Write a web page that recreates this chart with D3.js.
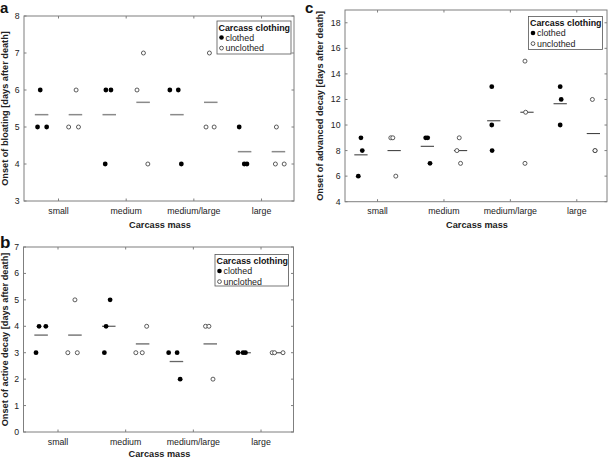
<!DOCTYPE html>
<html><head><meta charset="utf-8">
<script src="https://cdn.jsdelivr.net/npm/d3@7"></script>
<style>
html,body{margin:0;padding:0;background:#fff;}
svg{display:block;font-family:"Liberation Sans",Arial,sans-serif;}
</style></head>
<body>
<svg id="chart" width="610" height="458"></svg>
<script>
// ---- data ----
const categories = ["small", "medium", "medium/large", "large"];
const legendTitle = "Carcass clothing";
const seriesNames = ["clothed", "unclothed"];
// groups ordered: small-clothed, small-unclothed, medium-clothed, ...
const bloatingValues = [[5,6,5],[6,5,5],[6,6,4],[6,7,4],[6,6,4],[5,7,5],[5,4,4],[5,4,4]];
const bloatingJitter = [[-0.12,-0.04,0.15],[0.02,-0.20,0.09],[-0.10,0.05,-0.12],[-0.18,0.01,0.14],[-0.21,0.04,0.13],[-0.14,-0.04,0.10],[-0.16,-0.01,0.07],[-0.06,-0.09,0.17]];
const activeValues = [[3,4,4],[3,5,3],[3,4,5],[3,3,4],[3,3,2],[4,4,2],[3,3,3],[3,3,3]];
const activeJitter = [[-0.15,-0.06,0.14],[-0.21,0.00,0.07],[-0.13,-0.08,0.04],[-0.20,-0.01,0.12],[-0.23,0.02,0.11],[-0.14,-0.04,0.08],[-0.18,-0.03,0.04],[-0.17,-0.10,0.15]];
const advancedValues = [[6,9,8],[9,9,6],[9,9,7],[9,8,7],[13,10,8],[15,11,7],[13,12,10],[12,8,8]];
const advancedJitter = [[-0.08,0,0.04],[-0.10,-0.04,0.05],[-0.05,0.01,0.08],[-0.04,-0.11,0],[-0.06,-0.06,-0.05],[-0.06,-0.04,-0.06],[0,0.03,0],[-0.03,0.05,0.05]];
const bloatingTicks = [3,4,5,6,7,8];
const activeTicks = [0,1,2,3,4,5,6,7];
const advancedTicks = [4,6,8,10,12,14,16,18];

const svg = d3.select("#chart");

function panel(cfg) {
  const {letter, values, jitter, yDomain, yTicks, yLabel, box, xDomain, lg, meanColor, meanWidth, letterPos, yLabelX} = cfg;
  const g = svg.append("g");
  const x = d3.scaleLinear().domain(xDomain).range([box.x0, box.x1]);
  const y = d3.scaleLinear().domain(yDomain).range([box.y1, box.y0]);
  const frameColor = "#7f7f7f";

  // frame
  g.append("rect").attr("x", box.x0).attr("y", box.y0)
    .attr("width", box.x1 - box.x0).attr("height", box.y1 - box.y0)
    .attr("fill", "none").attr("stroke", frameColor).attr("stroke-width", 1);

  // y ticks & labels
  yTicks.forEach(t => {
    const yy = y(t);
    g.append("line").attr("x1", box.x0).attr("x2", box.x0 + 2.5).attr("y1", yy).attr("y2", yy).attr("stroke", frameColor);
    g.append("line").attr("x1", box.x1).attr("x2", box.x1 - 2.5).attr("y1", yy).attr("y2", yy).attr("stroke", frameColor);
    g.append("text").attr("x", box.x0 - 4.5).attr("y", yy + 3).attr("text-anchor", "end")
      .attr("font-size", 8.7).attr("fill", "#222").text(t);
  });
  // x ticks & labels
  categories.forEach((c, i) => {
    const xx = x(2 * i + 0.5);
    g.append("line").attr("x1", xx).attr("x2", xx).attr("y1", box.y1).attr("y2", box.y1 - 2.5).attr("stroke", frameColor);
    g.append("line").attr("x1", xx).attr("x2", xx).attr("y1", box.y0).attr("y2", box.y0 + 2.5).attr("stroke", frameColor);
    g.append("text").attr("x", xx).attr("y", box.y1 + 12.5).attr("text-anchor", "middle")
      .attr("font-size", 8.8).attr("fill", "#222").text(c);
  });
  // axis titles
  g.append("text").attr("x", (box.x0 + box.x1) / 2 + 1).attr("y", box.y1 + cfg.xTitleDy).attr("text-anchor", "middle")
    .attr("font-size", 9.2).attr("font-weight", "bold").attr("fill", "#222").text("Carcass mass");
  g.append("text").attr("transform", `translate(${yLabelX},${(box.y0 + box.y1) / 2}) rotate(-90)`)
    .attr("text-anchor", "middle").attr("font-size", 9.2).attr("font-weight", "bold").attr("fill", "#222").text(yLabel);
  // panel letter
  g.append("text").attr("x", letterPos[0]).attr("y", letterPos[1]).attr("font-size", letterPos[2])
    .attr("font-weight", "bold").attr("fill", "#111").text(letter);

  // mean lines
  values.forEach((vals, i) => {
    const m = d3.mean(vals);
    g.append("line").attr("x1", x(i - 0.2)).attr("x2", x(i + 0.2)).attr("y1", y(m)).attr("y2", y(m))
      .attr("stroke", meanColor).attr("stroke-width", meanWidth);
  });
  // points
  values.forEach((vals, i) => {
    const clothed = i % 2 === 0;
    vals.forEach((v, k) => {
      const c = g.append("circle").attr("cx", x(i + jitter[i][k])).attr("cy", y(v));
      if (clothed) c.attr("r", 2.4).attr("fill", "#000");
      else c.attr("r", 2).attr("fill", "#fff").attr("stroke", "#333").attr("stroke-width", 0.8);
    });
  });

  // legend
  g.append("rect").attr("x", lg.x0).attr("y", lg.y0).attr("width", lg.x1 - lg.x0).attr("height", lg.y1 - lg.y0)
    .attr("fill", "#fff").attr("stroke", "#555").attr("stroke-width", 0.8);
  g.append("text").attr("x", lg.x0 + 1.5).attr("y", lg.y0 + 9.7).attr("font-size", 8.9)
    .attr("font-weight", "bold").attr("fill", "#111").text(legendTitle);
  seriesNames.forEach((s, k) => {
    const cy = lg.y0 + 16.5 + k * 10.6;
    const c = g.append("circle").attr("cx", lg.x0 + 4.5).attr("cy", cy);
    if (k === 0) c.attr("r", 2.3).attr("fill", "#000");
    else c.attr("r", 1.9).attr("fill", "#fff").attr("stroke", "#333").attr("stroke-width", 0.8);
    g.append("text").attr("x", lg.x0 + 8.5).attr("y", cy + 3.2).attr("font-size", 8.9).attr("fill", "#222").text(s);
  });
}

panel({
  letter: "a", values: bloatingValues, jitter: bloatingJitter, yDomain: [3, 8], yTicks: bloatingTicks,
  yLabel: "Onset of bloating [days after death]",
  box: {x0: 24, x1: 294, y0: 16, y1: 201}, xDomain: [-0.52, 7.46],
  lg: {x0: 217, x1: 291, y0: 21, y1: 54}, meanColor: "#8a8a8a", meanWidth: 1.5,
  letterPos: [0, 12.5, 15], yLabelX: 8, xTitleDy: 26.5
});
panel({
  letter: "b", values: activeValues, jitter: activeJitter, yDomain: [0, 7], yTicks: activeTicks,
  yLabel: "Onset of active decay [days after death]",
  box: {x0: 23.5, x1: 293.5, y0: 247, y1: 432}, xDomain: [-0.52, 7.46],
  lg: {x0: 215, x1: 288.5, y0: 254.5, y1: 286}, meanColor: "#666", meanWidth: 1.3,
  letterPos: [0, 248, 17], yLabelX: 8, xTitleDy: 25
});
panel({
  letter: "c", values: advancedValues, jitter: advancedJitter, yDomain: [4, 19], yTicks: advancedTicks,
  yLabel: "Onset of advanced decay [days after death]",
  box: {x0: 345, x1: 607, y0: 10, y1: 201.7}, xDomain: [-0.48, 7.41],
  lg: {x0: 528.5, x1: 602.5, y0: 16.5, y1: 49.5}, meanColor: "#444", meanWidth: 1.1,
  letterPos: [305, 12.5, 15], yLabelX: 323, xTitleDy: 26
});
</script>
</body></html>
